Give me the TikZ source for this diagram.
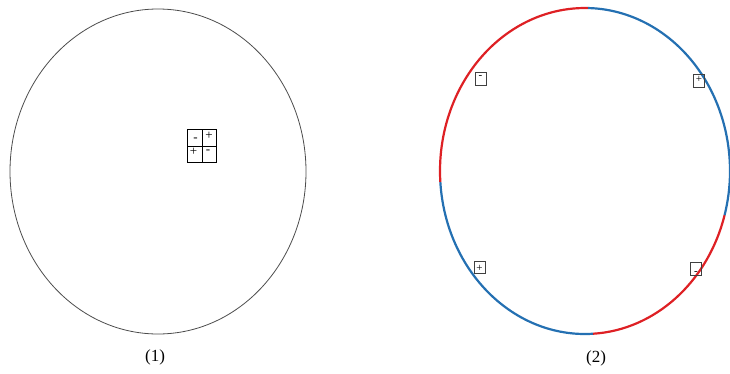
\documentclass[tikz,border=0pt]{standalone}
\usepackage{fontspec}
\setmainfont{Liberation Serif}
\definecolor{myred}{RGB}{222,32,36}
\definecolor{myblue}{RGB}{36,112,178}
\tikzset{
  sbox/.style={draw=black!75, line width=0.6pt, minimum width=11pt, minimum height=13pt, inner sep=0pt},
  sign/.style={inner sep=0pt, font=\fontsize{11}{11}\selectfont},
  gsign/.style={inner sep=0pt, font=\fontsize{13}{13}\selectfont},
  gcell/.style={draw, line width=0.7pt, minimum width=14.5pt, minimum height=16.5pt, inner sep=0pt, anchor=north west},
  arcred/.style={draw=myred, line width=2.2pt},
  arcblue/.style={draw=myblue, line width=2.2pt},
  lbl/.style={font=\fontsize{17}{17}\selectfont, inner sep=0pt}
}
\begin{document}
\begin{tikzpicture}[x=1pt,y=1pt]
\useasboundingbox (0,0) rectangle (730,373);
% ellipse 1
\draw[black!70, line width=0.8pt] (158,201.5) ellipse [x radius=148, y radius=162.5];
% central grid
\node[gcell] (g1) at (187,244) {};
\node[gcell] (g2) at (201.5,244) {};
\node[gcell] (g3) at (187,227.5) {};
\node[gcell] (g4) at (201.5,227.5) {};
\node[gsign] (s1) at ([xshift=1pt,yshift=-2.5pt]g1.center) {-};
\node[gsign] (s2) at ([xshift=0pt,yshift=2pt]g2.center) {+};
\node[gsign] (s3) at ([xshift=-1pt,yshift=2pt]g3.center) {+};
\node[gsign] (s4) at ([xshift=-1pt,yshift=2pt]g4.center) {-};
% ellipse 2 arcs: center (585,202), rx 145, ry 163
\coordinate (c2) at (585,202);
\draw[arcred] ([shift={(88.8:145 and 163)}]c2) arc[start angle=88.8, end angle=183.9, x radius=145, y radius=163];
\draw[arcblue] ([shift={(183.9:145 and 163)}]c2) arc[start angle=183.9, end angle=273.2, x radius=145, y radius=163];
\draw[arcred] ([shift={(273.2:145 and 163)}]c2) arc[start angle=273.2, end angle=344.3, x radius=145, y radius=163];
\draw[arcblue] ([shift={(344.3:145 and 163)}]c2) arc[start angle=344.3, end angle=448.8, x radius=145, y radius=163];
% small boxes
\node[sbox] (b1) at (480.5,294.5) {};
\node[sign] at ([yshift=2pt]b1.center) {-};
\node[sbox] (b2) at (699,292.5) {};
\node[sign] at ([yshift=1.5pt]b2.center) {+};
\node[sbox, minimum height=12pt] (b3) at (479.5,106) {};
\node[sign] at ([yshift=-1pt]b3.center) {+};
\node[sbox] (b4) at (696,104) {};
\node[sign] at ([yshift=-4pt]b4.center) {-};
% labels
\node[lbl] (l1) at (155,16) {(1)};
\node[lbl] (l2) at (596,15) {(2)};
\end{tikzpicture}
\end{document}
